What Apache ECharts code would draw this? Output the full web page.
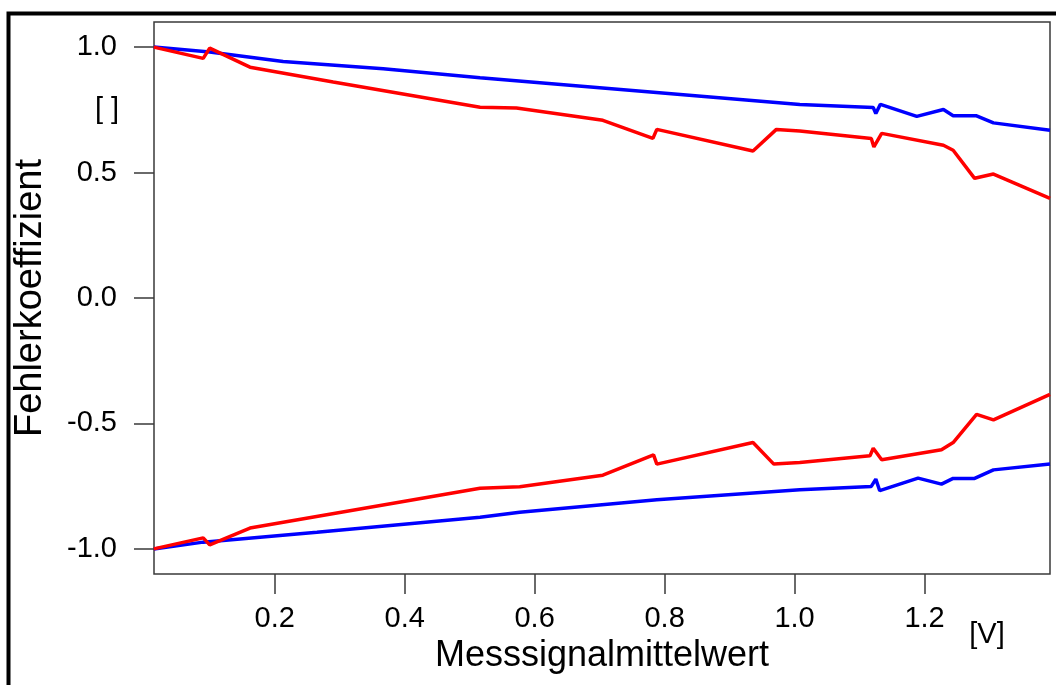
<!DOCTYPE html>
<html>
<head>
<meta charset="utf-8">
<script src="https://cdn.jsdelivr.net/npm/echarts@6/dist/echarts.min.js"></script>
<style>
html,body{margin:0;padding:0;background:#fff;}
#chart{width:1056px;height:685px;}
</style>
</head>
<body>
<div id="chart"></div>
<script>
// Axis ticks
const xTicks = [0.2, 0.4, 0.6, 0.8, 1.0, 1.2];
const yTicks = [-1.0, -0.5, 0.0, 0.5, 1.0];

// Upper red curve
const upperRedX = [0.014, 0.09, 0.1, 0.162, 0.29, 0.516, 0.572, 0.705, 0.782, 0.788, 0.936, 0.972, 1.008, 1.118, 1.122, 1.134, 1.229, 1.244, 1.277, 1.306, 1.393];
const upperRedY = [1.0, 0.955, 0.996, 0.92, 0.861, 0.76, 0.757, 0.708, 0.636, 0.672, 0.586, 0.672, 0.666, 0.636, 0.602, 0.656, 0.609, 0.589, 0.477, 0.494, 0.397];

// Upper blue curve
const upperBlueX = [0.014, 0.1, 0.213, 0.367, 0.516, 0.7, 1.008, 1.121, 1.125, 1.132, 1.188, 1.229, 1.244, 1.28, 1.306, 1.393];
const upperBlueY = [1.0, 0.98, 0.943, 0.914, 0.878, 0.838, 0.771, 0.759, 0.735, 0.772, 0.724, 0.751, 0.726, 0.726, 0.698, 0.669];

// Lower red curve
const lowerRedX = [0.014, 0.09, 0.1, 0.162, 0.516, 0.577, 0.705, 0.783, 0.788, 0.936, 0.968, 1.008, 1.116, 1.121, 1.134, 1.226, 1.244, 1.28, 1.306, 1.393];
const lowerRedY = [-1.0, -0.956, -0.984, -0.917, -0.758, -0.752, -0.706, -0.625, -0.662, -0.576, -0.662, -0.656, -0.629, -0.599, -0.645, -0.605, -0.576, -0.464, -0.486, -0.384];

// Lower blue curve
const lowerBlueX = [0.014, 0.09, 0.265, 0.516, 0.577, 0.788, 1.008, 1.118, 1.125, 1.131, 1.19, 1.226, 1.244, 1.277, 1.306, 1.393];
const lowerBlueY = [-1.0, -0.973, -0.934, -0.874, -0.854, -0.804, -0.764, -0.751, -0.722, -0.768, -0.718, -0.742, -0.719, -0.719, -0.685, -0.662];

function pairs(xs, ys) { return xs.map((x, i) => [x, ys[i]]); }

const FONT = "'Liberation Sans', Arial, sans-serif";
const AX = '#3a3a3a';

const chart = echarts.init(document.getElementById('chart'), null, {renderer: 'canvas'});

function lineSeries(name, color, data) {
  return {
    name: name, type: 'line', data: data, showSymbol: false, symbol: 'none',
    lineStyle: {color: color, width: 3.5}, itemStyle: {color: color},
    animation: false, z: 3
  };
}

chart.setOption({
  backgroundColor: '#ffffff',
  animation: false,
  grid: {
    left: 154, top: 22, right: 6, bottom: 111,
    show: true, borderColor: AX, borderWidth: 1.5, backgroundColor: 'transparent'
  },
  xAxis: {
    type: 'value', min: 0.0143, max: 1.393,
    name: 'Messsignalmittelwert', nameLocation: 'middle', nameGap: 64,
    nameTextStyle: {fontFamily: FONT, fontSize: 36, color: '#000'},
    axisLine: {show: false, onZero: false},
    splitLine: {show: false},
    axisTick: {show: true, inside: false, length: 20, lineStyle: {color: AX, width: 1.5}, customValues: xTicks},
    axisLabel: {
      customValues: xTicks, margin: 30, fontFamily: FONT, fontSize: 29, color: '#000',
      formatter: v => v.toFixed(1)
    }
  },
  yAxis: {
    type: 'value', min: -1.1, max: 1.1,
    name: 'Fehlerkoeffizient', nameLocation: 'middle', nameGap: 104, nameRotate: 90,
    nameTextStyle: {fontFamily: FONT, fontSize: 38, color: '#000'},
    axisLine: {show: false, onZero: false},
    splitLine: {show: false},
    axisTick: {show: true, inside: false, length: 20, lineStyle: {color: AX, width: 1.5}, customValues: yTicks},
    axisLabel: {
      customValues: yTicks, margin: 37, fontFamily: FONT, fontSize: 29, color: '#000',
      formatter: v => v.toFixed(1)
    }
  },
  graphic: [
    {type: 'rect', shape: {x: 8.5, y: 13.5, width: 1200, height: 900}, style: {fill: 'none', stroke: '#000', lineWidth: 4}, z: 10, silent: true},
    {type: 'text', x: 107, y: 110, style: {text: '[ ]', fontFamily: FONT, fontSize: 29, fill: '#000', align: 'center', verticalAlign: 'middle'}},
    {type: 'text', x: 987, y: 635, style: {text: '[V]', fontFamily: FONT, fontSize: 29, fill: '#000', align: 'center', verticalAlign: 'middle'}}
  ],
  series: [
    lineSeries('upperBlue', '#0000ff', pairs(upperBlueX, upperBlueY)),
    lineSeries('upperRed', '#ff0000', pairs(upperRedX, upperRedY)),
    lineSeries('lowerBlue', '#0000ff', pairs(lowerBlueX, lowerBlueY)),
    lineSeries('lowerRed', '#ff0000', pairs(lowerRedX, lowerRedY))
  ]
});
</script>
</body>
</html>
